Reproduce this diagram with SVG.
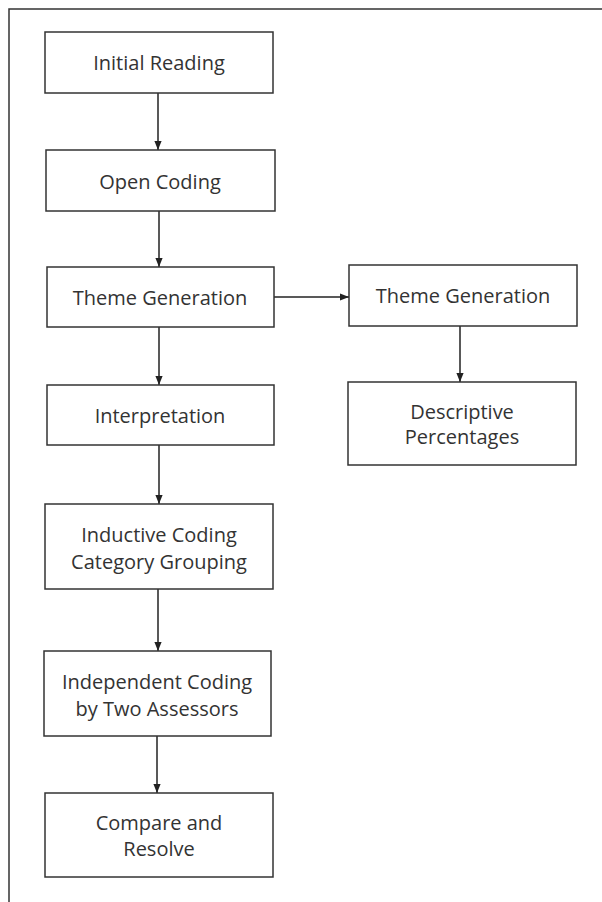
<svg xmlns="http://www.w3.org/2000/svg" width="602" height="902" viewBox="0 0 602 902">
  <defs>
    <marker id="arrow" viewBox="0 0 10 10" refX="10" refY="5" markerWidth="9" markerHeight="9" markerUnits="userSpaceOnUse" orient="auto">
      <path d="M0,1 L10,5 L0,9 Z" fill="#222"/>
    </marker>
    <style>
      .box { fill: #ffffff; stroke: #333333; stroke-width: 1.5; }
      .label { font-family: "Open Sans", "Noto Sans", sans-serif; font-size: 20px; fill: #333333; text-anchor: middle; dominant-baseline: central; }
      .edge { stroke: #222222; stroke-width: 1.5; fill: none; marker-end: url(#arrow); }
    </style>
  </defs>

  <rect width="602" height="902" fill="#ffffff"/>
  <!-- page frame: top and left edges -->
  <path d="M602,9 H9 V902" fill="none" stroke="#333333" stroke-width="1.5"/>

  <g id="connectors">
    <line class="edge" x1="158" y1="93" x2="158" y2="150"/>
    <line class="edge" x1="159" y1="211" x2="159" y2="267"/>
    <line class="edge" x1="159" y1="327" x2="159" y2="385"/>
    <line class="edge" x1="159" y1="445" x2="159" y2="504"/>
    <line class="edge" x1="158" y1="589" x2="158" y2="651"/>
    <line class="edge" x1="157" y1="736" x2="157" y2="793"/>
    <line class="edge" x1="274" y1="297" x2="349" y2="297"/>
    <line class="edge" x1="460" y1="326" x2="460" y2="382"/>
  </g>

  <g id="initial-reading">
    <rect class="box" x="45" y="32" width="228" height="61"/>
    <text class="label" x="159" y="62">Initial Reading</text>
  </g>
  <g id="open-coding">
    <rect class="box" x="46" y="150" width="229" height="61"/>
    <text class="label" x="160" y="181">Open Coding</text>
  </g>
  <g id="theme-generation">
    <rect class="box" x="47" y="267" width="227" height="60"/>
    <text class="label" x="160" y="297">Theme Generation</text>
  </g>
  <g id="interpretation">
    <rect class="box" x="47" y="385" width="227" height="60"/>
    <text class="label" x="160" y="415">Interpretation</text>
  </g>
  <g id="inductive-coding">
    <rect class="box" x="45" y="504" width="228" height="85"/>
    <text class="label" x="159" y="534">Inductive Coding</text>
    <text class="label" x="159" y="561">Category Grouping</text>
  </g>
  <g id="independent-coding">
    <rect class="box" x="44" y="651" width="227" height="85"/>
    <text class="label" x="157" y="681">Independent Coding</text>
    <text class="label" x="157" y="708">by Two Assessors</text>
  </g>
  <g id="compare-resolve">
    <rect class="box" x="45" y="793" width="228" height="84"/>
    <text class="label" x="159" y="822">Compare and</text>
    <text class="label" x="159" y="848">Resolve</text>
  </g>
  <g id="theme-generation-2">
    <rect class="box" x="349" y="265" width="228" height="61"/>
    <text class="label" x="463" y="295">Theme Generation</text>
  </g>
  <g id="descriptive-percentages">
    <rect class="box" x="348" y="382" width="228" height="83"/>
    <text class="label" x="462" y="411">Descriptive</text>
    <text class="label" x="462" y="436">Percentages</text>
  </g>
</svg>
